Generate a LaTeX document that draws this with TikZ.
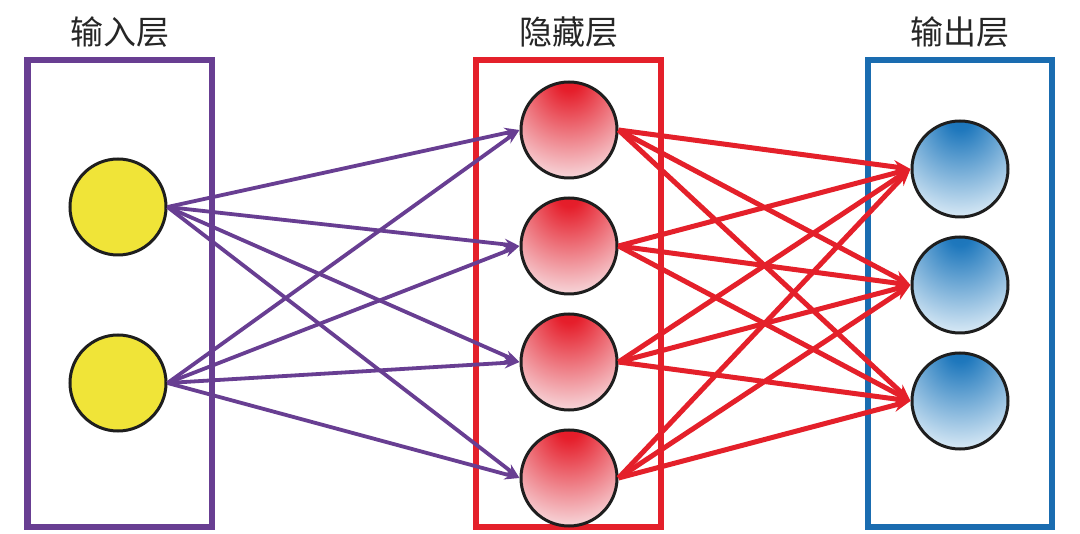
\documentclass[tikz,border=0pt]{standalone}
\usepackage{fontspec}
\newfontfamily\cjk{Noto Sans CJK SC}
\usetikzlibrary{arrows.meta}
\definecolor{cpurple}{RGB}{104,62,146}
\definecolor{cred}{RGB}{228,32,42}
\definecolor{cblue}{RGB}{26,108,176}
\definecolor{cyellow}{RGB}{240,228,56}
\definecolor{cdark}{RGB}{30,30,30}
\pgfdeclareradialshading{redball}{\pgfpoint{0bp}{28bp}}{rgb(0bp)=(0.9,0.1,0.15); rgb(6bp)=(0.9,0.12,0.17); rgb(46bp)=(0.975,0.93,0.94); rgb(100bp)=(0.975,0.93,0.94)}
\pgfdeclareradialshading{blueball}{\pgfpoint{0bp}{28bp}}{rgb(0bp)=(0.1,0.45,0.72); rgb(6bp)=(0.12,0.47,0.74); rgb(46bp)=(0.94,0.97,0.99); rgb(100bp)=(0.94,0.97,0.99)}
\begin{document}
\begin{tikzpicture}[x=1pt,y=-1pt,
  neuron/.style={circle,draw=cdark,line width=3pt,minimum size=96pt,inner sep=0pt},
  inneuron/.style={neuron,fill=cyellow},
  hidneuron/.style={neuron,shading=redball},
  outneuron/.style={neuron,shading=blueball},
  layerbox/.style={line width=6.5pt},
  title/.style={font=\cjk\fontsize{33pt}{35pt}\selectfont,text=black!85},
  parrow/.style={cpurple,line width=3.8pt,-{Stealth[length=15pt,width=11pt]}},
  rarrow/.style={cred,line width=5pt,-{Stealth[length=17pt,width=13pt]}}]
\useasboundingbox (0,0) rectangle (1080,534);
\fill[white] (0,0) rectangle (1080,534);
% boxes
\draw[layerbox,cpurple] (27.5,60) rectangle (212,527);
\draw[layerbox,cred] (476,60) rectangle (661,527);
\draw[layerbox,cblue] (868,60) rectangle (1052,527);
% titles
\node[title] (t1) at (120,32) {输入层};
\node[title] (t2) at (569,32) {隐藏层};
\node[title] (t3) at (960,32) {输出层};
% neurons
\node[inneuron] (i1) at (118,207) {};
\node[inneuron] (i2) at (118,383) {};
\node[hidneuron] (h1) at (569,130) {};
\node[hidneuron] (h2) at (569,246) {};
\node[hidneuron] (h3) at (569,362) {};
\node[hidneuron] (h4) at (569,478) {};
\node[outneuron] (o1) at (960,169) {};
\node[outneuron] (o2) at (960,285) {};
\node[outneuron] (o3) at (960,401) {};
% connections
\foreach \a in {i1,i2}
  \foreach \b in {h1,h2,h3,h4}
    \draw[parrow] (\a.east) -- (\b.west);
\foreach \a in {h1,h2,h3,h4}
  \foreach \b in {o1,o2,o3}
    \draw[rarrow] (\a.east) -- (\b.west);
\end{tikzpicture}
\end{document}
